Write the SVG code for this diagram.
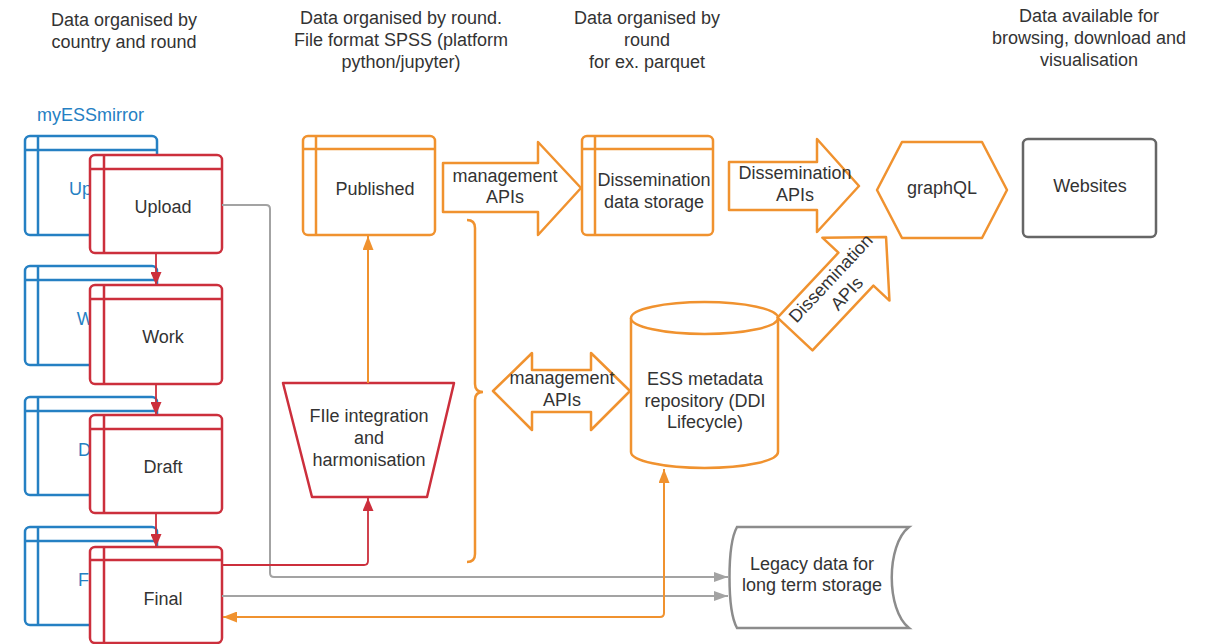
<svg xmlns="http://www.w3.org/2000/svg" width="1213" height="644" viewBox="0 0 1213 644">
<style>
text{font-family:"Liberation Sans",Arial,sans-serif;font-size:18px;fill:#333;text-anchor:middle}
.blue{fill:#fff;stroke:#2580C3;stroke-width:2.5}
.bl{stroke:#2580C3;stroke-width:2.5;fill:none}
.btxt{fill:#2580C3}
.red{fill:#fff;stroke:#CC2F3C;stroke-width:2.5;stroke-linejoin:round}
.rl{stroke:#CC2F3C;stroke-width:2.5;fill:none}
.or{fill:#fff;stroke:#F0922F;stroke-width:2.5;stroke-linejoin:round}
.ol{stroke:#F0922F;stroke-width:2.5;fill:none}
.gray{fill:#fff;stroke:#8C8C8C;stroke-width:2.5}
.c-gray{stroke:#A3A3A3;stroke-width:2;fill:none}
.c-red{stroke:#CC2F3C;stroke-width:1.8;fill:none}
.c-or{stroke:#F0922F;stroke-width:2;fill:none}
</style>
<defs>
<marker id="ag" markerWidth="14" markerHeight="10" refX="14" refY="5" orient="auto" markerUnits="userSpaceOnUse"><path d="M0,0 L14,5 L0,10 Z" fill="#A3A3A3"/></marker>
<marker id="ar" markerWidth="13" markerHeight="11" refX="13" refY="5.5" orient="auto" markerUnits="userSpaceOnUse"><path d="M0,0 L13,5.5 L0,11 Z" fill="#CC2F3C"/></marker>
<marker id="ao" markerWidth="14" markerHeight="11" refX="14" refY="5.5" orient="auto-start-reverse" markerUnits="userSpaceOnUse"><path d="M0,0 L14,5.5 L0,11 Z" fill="#F0922F"/></marker>
</defs>

<g id="headers">
<text x="124" y="26">Data organised by</text>
<text x="124" y="48">country and round</text>
<text x="401" y="24">Data organised by round.</text>
<text x="401" y="46">File format SPSS (platform</text>
<text x="401" y="68">python/jupyter)</text>
<text x="647" y="24">Data organised by</text>
<text x="647" y="46">round</text>
<text x="647" y="68">for ex. parquet</text>
<text x="1089" y="22">Data available for</text>
<text x="1089" y="44">browsing, download and</text>
<text x="1089" y="66">visualisation</text>
<text x="37" y="121" class="btxt" style="text-anchor:start">myESSmirror</text>
</g>

<g id="mirror-upload">
<rect class="blue" x="25" y="136" width="132" height="99" rx="5"/>
<path class="bl" d="M38,136 V235 M25,150 H157"/>
<text class="btxt" x="97.5" y="195">Upload</text>
</g>
<g id="mirror-work">
<rect class="blue" x="25" y="266" width="132" height="99" rx="5"/>
<path class="bl" d="M38,266 V365 M25,280 H157"/>
<text class="btxt" x="97.5" y="325">Work</text>
</g>
<g id="mirror-draft">
<rect class="blue" x="25" y="397" width="132" height="98" rx="5"/>
<path class="bl" d="M38,397 V495 M25,411 H157"/>
<text class="btxt" x="97.5" y="456">Draft</text>
</g>
<g id="mirror-final">
<rect class="blue" x="25" y="527" width="132" height="98" rx="5"/>
<path class="bl" d="M38,527 V625 M25,541 H157"/>
<text class="btxt" x="97.5" y="586">Final</text>
</g>

<g id="upload">
<rect class="red" x="90" y="155" width="132" height="98" rx="5"/>
<path class="rl" d="M104,155 V253 M90,169 H222"/>
<text x="163" y="213">Upload</text>
</g>
<g id="work">
<rect class="red" x="90" y="285" width="132" height="99" rx="5"/>
<path class="rl" d="M104,285 V384 M90,299 H222"/>
<text x="163" y="343">Work</text>
</g>
<g id="draft">
<rect class="red" x="90" y="415" width="132" height="98" rx="5"/>
<path class="rl" d="M104,415 V513 M90,429 H222"/>
<text x="163" y="473">Draft</text>
</g>
<g id="final">
<rect class="red" x="90" y="547" width="132" height="96" rx="5"/>
<path class="rl" d="M104,547 V643 M90,560 H222"/>
<text x="163" y="605">Final</text>
</g>

<g id="published">
<rect class="or" x="303" y="136" width="132" height="99" rx="5"/>
<path class="ol" d="M316,136 V235 M303,149 H435"/>
<text x="375" y="195">Published</text>
</g>

<g id="management-apis-1">
<path class="or" d="M443,163 L538,163 L538,142 L581,188 L538,235 L538,212 L443,212 Z"/>
<text x="505" y="182">management</text>
<text x="505" y="203">APIs</text>
</g>

<g id="dissemination-storage">
<rect class="or" x="582" y="136" width="131" height="99" rx="5"/>
<path class="ol" d="M595,136 V235 M582,149 H713"/>
<text x="654" y="186">Dissemination</text>
<text x="654" y="208">data storage</text>
</g>

<g id="dissemination-apis-1">
<path class="or" d="M729,162 L817,162 L817,139 L859,186 L817,232 L817,210 L729,210 Z"/>
<text x="795" y="179">Dissemination</text>
<text x="795" y="201">APIs</text>
</g>

<g id="graphql">
<path class="or" d="M902,142 L982,142 L1007,190 L982,238 L902,238 L877,190 Z"/>
<text x="942" y="194">graphQL</text>
</g>

<g id="websites">
<rect x="1023" y="139" width="133" height="98" rx="5" fill="#fff" stroke="#666" stroke-width="2.5"/>
<text x="1090" y="192">Websites</text>
</g>

<g id="integration">
<path class="red" d="M283,383 L454,383 L427,497 L312,497 Z"/>
<text x="369" y="422">FIle integration</text>
<text x="369" y="444">and</text>
<text x="369" y="466">harmonisation</text>
</g>

<g id="brace">
<path class="ol" d="M467,220 Q475,220 475,228 L475,384 Q475,392 483,392 Q475,392 475,400 L475,554 Q475,562 467,562"/>
</g>

<g id="management-apis-2">
<path class="or" d="M493,391 L532,353 L532,370 L591,370 L591,353 L630,391 L591,430 L591,412 L532,412 L532,430 Z"/>
<text x="562" y="384">management</text>
<text x="562" y="406">APIs</text>
</g>

<g id="metadata-repository">
<path class="or" d="M631,318 V452 A73.5,16 0 0 0 778,452 V318"/>
<ellipse class="or" cx="704.5" cy="318" rx="73.5" ry="16"/>
<text x="705" y="385">ESS metadata</text>
<text x="705" y="407">repository (DDI</text>
<text x="705" y="428">Lifecycle)</text>
</g>

<g id="dissemination-apis-2" transform="translate(795,334) rotate(-46.8)">
<path class="or" d="M0,-24 L89,-24 L89,-46 L133,0 L89,46 L89,24 L0,24 Z"/>
<text x="65" y="-6">Dissemination</text>
<text x="65" y="16">APIs</text>
</g>

<g id="legacy">
<path class="gray" d="M737,527 L909,527 C886,545 886,610 909,628 L737,628 C727,610 727,545 737,527 Z"/>
<text x="812" y="570">Legacy data for</text>
<text x="812" y="591">long term storage</text>
</g>

<g id="connectors">
<path class="c-red" d="M156,253 V285" marker-end="url(#ar)"/>
<path class="c-red" d="M156,384 V415" marker-end="url(#ar)"/>
<path class="c-red" d="M156,513 V547" marker-end="url(#ar)"/>
<path class="c-gray" d="M222,205 H266 Q270,205 270,209 V573 Q270,577 274,577 H728" marker-end="url(#ag)"/>
<path class="c-gray" d="M222,596 H728" marker-end="url(#ag)"/>
<path class="c-red" d="M222,565 H364 Q368,565 368,561 V498" marker-end="url(#ar)"/>
<path class="c-or" d="M368,383 V236" marker-end="url(#ao)"/>
<path class="c-or" d="M223,617 H660 Q664,617 664,613 V469" marker-start="url(#ao)" marker-end="url(#ao)"/>
</g>
</svg>
